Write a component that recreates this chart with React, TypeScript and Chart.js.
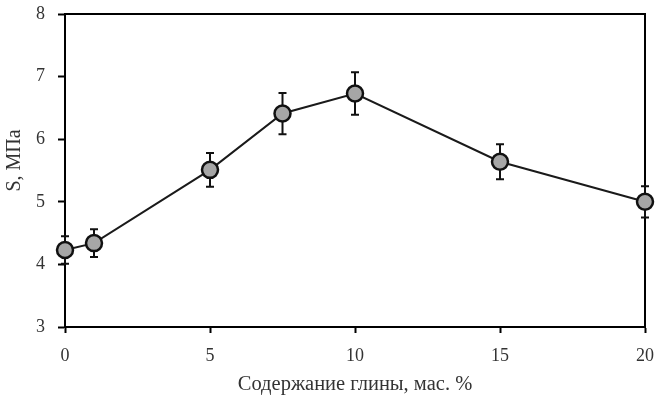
import React, { useEffect, useRef } from "react";
import { Chart, registerables } from "chart.js";

Chart.register(...registerables);

const clayContent = [0, 1, 5, 7.5, 10, 15, 20];
const strength = [4.23, 4.34, 5.51, 6.41, 6.73, 5.64, 5.0];
const strengthErr = [0.22, 0.22, 0.27, 0.33, 0.34, 0.28, 0.25];
const xTitle = "Содержание глины, мас. %";
const yTitle = "    S, МПа";

const FONT = "'Liberation Serif', 'Times New Roman', serif";

const boxPlugin = {
  id: "boxFrame",
  beforeDatasetsDraw(chart: any) {
    const { ctx, chartArea } = chart;
    ctx.save();
    ctx.strokeStyle = "#000";
    ctx.lineWidth = 2;
    ctx.beginPath();
    ctx.moveTo(chartArea.left, chartArea.top);
    ctx.lineTo(chartArea.right, chartArea.top);
    ctx.lineTo(chartArea.right, chartArea.bottom);
    ctx.stroke();
    ctx.restore();
  },
};

const errorBarPlugin = {
  id: "errorBars",
  beforeDatasetsDraw(chart: any) {
    const { ctx } = chart;
    const xs = chart.scales.x;
    const ys = chart.scales.y;
    ctx.save();
    ctx.strokeStyle = "#111";
    ctx.lineWidth = 2;
    const cap = 4;
    clayContent.forEach((xv, i) => {
      const px = xs.getPixelForValue(xv);
      const top = ys.getPixelForValue(strength[i] + strengthErr[i]);
      const bot = ys.getPixelForValue(strength[i] - strengthErr[i]);
      ctx.beginPath();
      ctx.moveTo(px, top);
      ctx.lineTo(px, bot);
      ctx.moveTo(px - cap, top);
      ctx.lineTo(px + cap, top);
      ctx.moveTo(px - cap, bot);
      ctx.lineTo(px + cap, bot);
      ctx.stroke();
    });
    ctx.restore();
  },
};

export default function App() {
  const ref = useRef<HTMLCanvasElement>(null);

  useEffect(() => {
    if (!ref.current) return;
    const chart = new Chart(ref.current, {
      type: "line",
      data: {
        datasets: [
          {
            data: clayContent.map((x, i) => ({ x, y: strength[i] })),
            borderColor: "#1a1a1a",
            borderWidth: 2,
            pointRadius: 8,
            pointHoverRadius: 8,
            pointBorderWidth: 2.5,
            pointBackgroundColor: "#a6a6a6",
            pointBorderColor: "#111",
            tension: 0,
            clip: false as any,
          },
        ],
      },
      options: {
        animation: false,
        responsive: false,
        events: [],
        layout: { padding: { top: 14, right: 19, left: 0, bottom: 0 } },
        plugins: {
          legend: { display: false },
          tooltip: { enabled: false },
        },
        scales: {
          x: {
            type: "linear",
            min: 0,
            max: 20,
            afterFit: (s: any) => {
              s.height = 73;
              s.paddingLeft = 0;
              s.paddingRight = 0;
            },
            ticks: {
              stepSize: 5,
              padding: 12,
              color: "#333",
              font: { family: FONT, size: 18 },
            },
            grid: {
              display: true,
              drawOnChartArea: false,
              drawTicks: true,
              tickLength: 6,
              tickWidth: 2,
              tickColor: "#000",
            },
            border: { display: true, color: "#000", width: 2 },
            title: {
              display: true,
              text: xTitle,
              color: "#333",
              font: { family: FONT, size: 20.5 },
              padding: { top: 0, bottom: 3 },
            },
          },
          y: {
            type: "linear",
            min: 3,
            max: 8,
            afterFit: (s: any) => {
              s.width = 65;
              s.paddingTop = 0;
              s.paddingBottom = 0;
            },
            ticks: {
              stepSize: 1,
              padding: 13,
              color: "#333",
              font: { family: FONT, size: 18 },
            },
            grid: {
              display: true,
              drawOnChartArea: false,
              drawTicks: true,
              tickLength: 7,
              tickWidth: 2,
              tickColor: "#000",
            },
            border: { display: true, color: "#000", width: 2 },
            title: {
              display: true,
              text: yTitle,
              color: "#333",
              font: { family: FONT, size: 20 },
              padding: { top: 3, bottom: 0 },
            },
          },
        },
      },
      plugins: [boxPlugin, errorBarPlugin],
    });
    return () => chart.destroy();
  }, []);

  return (
    <div style={{ position: "fixed", left: 0, top: 0, width: 664, height: 400, background: "#fff" }}>
      <canvas ref={ref} width={664} height={400} />
    </div>
  );
}
